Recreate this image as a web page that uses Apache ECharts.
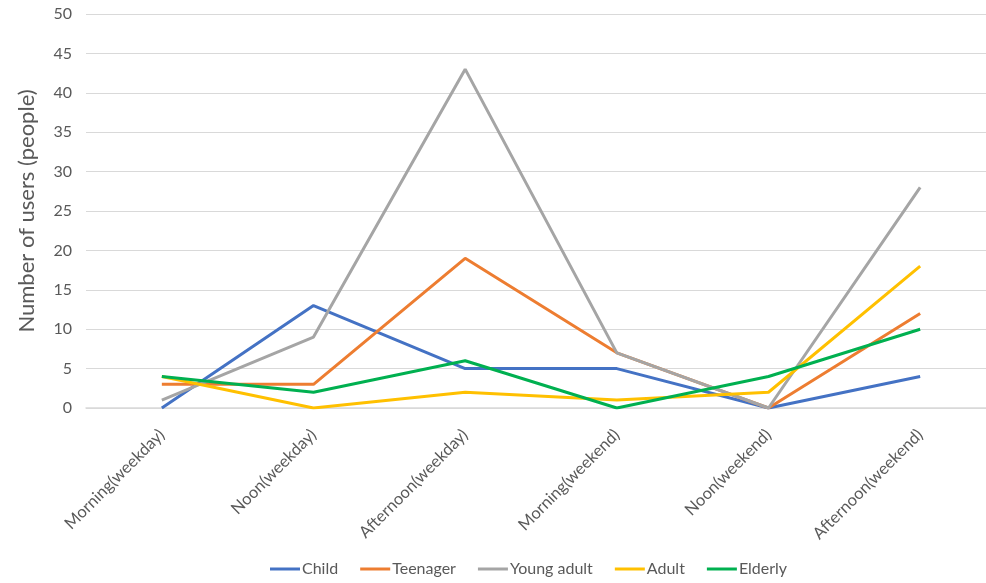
<!DOCTYPE html>
<html><head><meta charset="utf-8">
<script src="https://cdn.jsdelivr.net/npm/echarts@6/dist/echarts.min.js"></script>
<style>html,body{margin:0;padding:0;background:#fff}#c{width:986px;height:583px}</style>
</head><body><div id="c"></div>
<script>
const categories = ['Morning(weekday)','Noon(weekday)','Afternoon(weekday)','Morning(weekend)','Noon(weekend)','Afternoon(weekend)'];
const child = [0, 13, 5, 5, 0, 4];
const teenager = [3, 3, 19, 7, 0, 12];
const youngAdult = [1, 9, 43, 7, 0, 28];
const adult = [4, 0, 2, 1, 2, 18];
const elderly = [4, 2, 6, 0, 4, 10];
const seriesNames = ['Child','Teenager','Young adult','Adult','Elderly'];
const colors = ['#4472C4','#ED7D31','#A5A5A5','#FFC000','#00B050'];
const values = [child, teenager, youngAdult, adult, elderly];
const font = 'Lato, "Open Sans", sans-serif';
const chart = echarts.init(document.getElementById('c'));
chart.setOption({
  animation:false,
  color:colors,
  textStyle:{fontFamily:font},
  grid:{left:86,width:910,top:14,bottom:175,containLabel:false,outerBoundsMode:'none'},
  legend:{bottom:1,left:265,icon:'rect',itemWidth:30,itemHeight:3,itemGap:22,
    textStyle:{color:'#595959',fontSize:16,fontFamily:font,padding:[0,0,0,-3]},data:seriesNames},
  xAxis:{type:'category',data:categories,boundaryGap:true,
    axisLine:{lineStyle:{color:'#d9d9d9',width:1.5}},axisTick:{show:false},
    axisLabel:{rotate:45,color:'#595959',fontSize:16.5,margin:24,interval:0,fontFamily:font}},
  yAxis:{type:'value',min:0,max:50,interval:5,
    name:'Number of users (people)',nameLocation:'middle',nameGap:48,nameRotate:90,
    nameTextStyle:{color:'#595959',fontSize:22,fontFamily:font},
    axisLine:{show:false},axisTick:{show:false},
    axisLabel:{color:'#595959',fontSize:16,margin:14,fontFamily:font},
    splitLine:{lineStyle:{color:'#d9d9d9',width:1.2}}},
  series: seriesNames.map((n,i)=>({name:n,type:'line',data:values[i],symbol:'none',
    lineStyle:{width:3,color:colors[i]},itemStyle:{color:colors[i]}}))
});
</script></body></html>
